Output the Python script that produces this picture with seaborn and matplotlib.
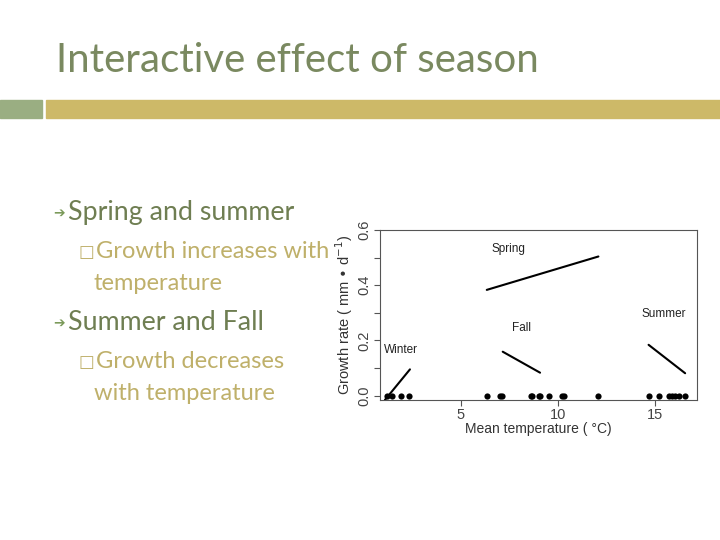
import matplotlib
matplotlib.use('Agg')
import matplotlib.pyplot as plt
from matplotlib.patches import Rectangle
import seaborn as sns
import pandas as pd

# Data

point_temps = [1.2, 1.45, 1.93, 2.36, 6.34, 7.02, 7.14, 8.6, 8.69, 9.0, 9.08,
               9.56, 10.2, 10.31, 12.08, 14.66, 15.22, 15.69, 15.89, 16.03,
               16.2, 16.51]
point_growth = [0.0] * len(point_temps)

seasons = ['Winter', 'Spring', 'Fall', 'Summer']
line_x_start = [1.1, 6.34, 7.16, 14.66]
line_x_end = [2.39, 12.08, 9.08, 16.54]
line_y_start = [-0.016, 0.383, 0.159, 0.184]
line_y_end = [0.095, 0.504, 0.083, 0.081]
label_x = [1.91, 7.45, 8.14, 15.43]
label_y = [0.165, 0.53, 0.244, 0.296]

y_ticks = [0.0, 0.1, 0.2, 0.3, 0.4, 0.5, 0.6]
y_ticklabels = ['0.0', '', '0.2', '', '0.4', '', '0.6']
x_ticks = [5, 10, 15]

sns.set_style('white')

fig = plt.figure(figsize=(7.2, 5.4), dpi=100)
fig.patch.set_facecolor('white')

# Slide decorations
fig.patches.append(Rectangle((0, 1 - 118 / 540), 42 / 720, 18 / 540,
                             transform=fig.transFigure, color='#9aae82', zorder=0))
fig.patches.append(Rectangle((46 / 720, 1 - 118 / 540), 674 / 720, 18 / 540,
                             transform=fig.transFigure, color='#cdb968', zorder=0))

fig.text(56 / 720, 1 - 60 / 540, 'Interactive effect of season', fontsize=29,
         color='#7a8960', family='Lato', va='center', ha='left')

title_col = '#6f7e52'
sub_col = '#bfb06a'
for yy in [213, 323]:
    fig.text(53 / 720, 1 - yy / 540, '\u2794', fontsize=10, color='#7b9a5a',
             family='DejaVu Sans', fontweight='bold', va='center')
for yy in [252, 362]:
    fig.text(78 / 720, 1 - yy / 540, '\u25a1', fontsize=12, color=sub_col,
             family='DejaVu Sans', va='center')
fig.text(68 / 720, 1 - 213 / 540, 'Spring and summer', fontsize=19.3,
         color=title_col, family='Lato', va='center')
fig.text(96 / 720, 1 - 252 / 540, 'Growth increases with', fontsize=17,
         color=sub_col, family='Lato', va='center')
fig.text(94 / 720, 1 - 283 / 540, 'temperature', fontsize=17,
         color=sub_col, family='Lato', va='center')
fig.text(68 / 720, 1 - 323 / 540, 'Summer and Fall', fontsize=19.3,
         color=title_col, family='Lato', va='center')
fig.text(96 / 720, 1 - 362 / 540, 'Growth decreases', fontsize=17,
         color=sub_col, family='Lato', va='center')
fig.text(94 / 720, 1 - 393 / 540, 'with temperature', fontsize=17,
         color=sub_col, family='Lato', va='center')

# Embedded plot
ax = fig.add_axes([380 / 720, 1 - 400 / 540, 317 / 720, 170 / 540])

pts = pd.DataFrame({'temp': point_temps, 'growth': point_growth})
sns.scatterplot(data=pts, x='temp', y='growth', color='black', s=20,
                edgecolor='black', linewidth=0, ax=ax, zorder=3)

for name, x0, x1, y0, y1, lx, ly in zip(seasons, line_x_start, line_x_end,
                                        line_y_start, line_y_end, label_x, label_y):
    sns.lineplot(x=[x0, x1], y=[y0, y1], color='black', linewidth=1.5, ax=ax)
    ax.text(lx, ly, name, fontsize=8.5, family='Liberation Sans',
            ha='center', va='center', color='#222222')

ax.set_xlim(0.85, 17.15)
ax.set_ylim(-0.016, 0.6)
ax.set_xticks(x_ticks)
ax.set_yticks(y_ticks)
ax.set_yticklabels(y_ticklabels, rotation=90, va='center')
for lab in ax.get_xticklabels() + ax.get_yticklabels():
    lab.set_family('Liberation Sans')
    lab.set_fontsize(10.5)
    lab.set_color('#444444')
ax.tick_params(axis='both', direction='out', length=4, width=0.8,
               color='#555555', left=True, bottom=True, pad=2)
ax.set_xlabel('Mean temperature ( \u00b0C)', fontsize=10, family='Liberation Sans',
              color='#333333', labelpad=0)
ax.set_ylabel('Growth rate ( mm \u2022 d$^{-1}$)', fontsize=10.5,
              family='Liberation Sans', color='#333333', labelpad=2)
for sp in ax.spines.values():
    sp.set_color('#555555')
    sp.set_linewidth(0.8)

fig.savefig('out.png', dpi=100, facecolor='white')
